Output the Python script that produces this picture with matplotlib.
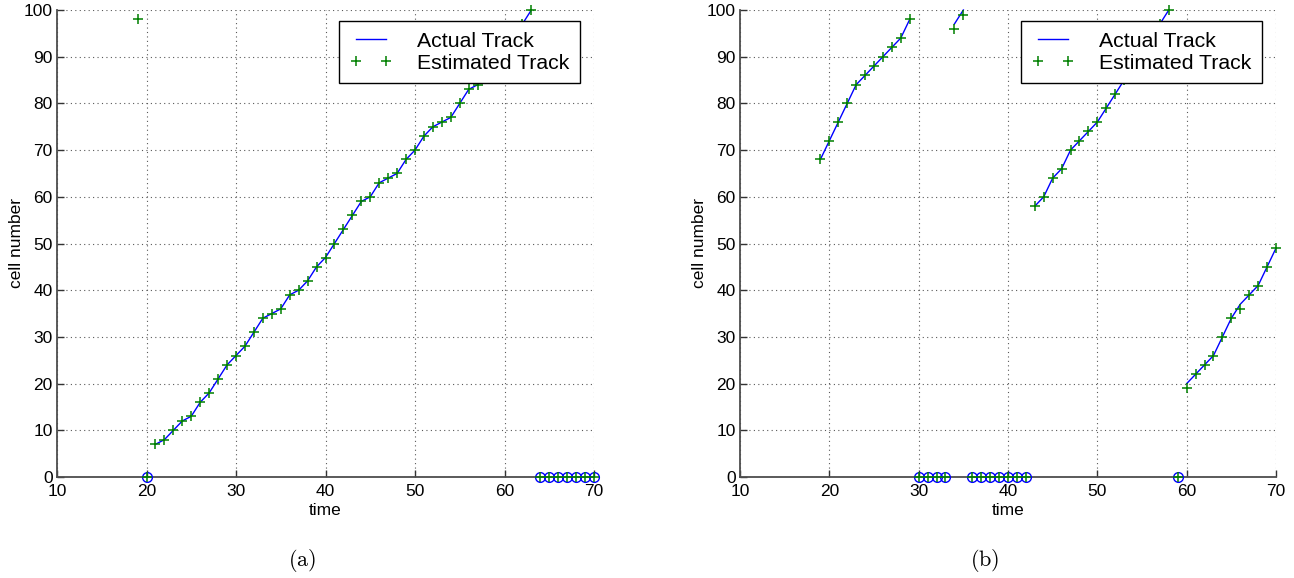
import numpy as np
import matplotlib
matplotlib.use("Agg")
import matplotlib.pyplot as plt

plt.rcParams['font.family'] = ['Liberation Sans', 'DejaVu Sans']
plt.rcParams['mathtext.fontset'] = 'cm'

nan = np.nan
time_a = list(range(19, 71))
actual_a = [nan, 0,
            7, 8, 10, 12, 13, 16, 18, 21, 24, 26,
            28, 31, 34, 35, 36, 39, 40, 42, 45, 47,
            50, 53, 56, 59, 60, 63, 64, 65, 68, 70,
            73, 75, 76, 77, 80, 83, 84, 87, 89, 92,
            94, 97, 100,
            0, 0, 0, 0, 0, 0, 0]
estimated_a = [98, 0,
               7, 8, 10, 12, 13, 16, 18, 21, 24, 26,
               28, 31, 34, 35, 36, 39, 40, 42, 45, 47,
               50, 53, 56, 59, 60, 63, 64, 65, 68, 70,
               73, 75, 76, 77, 80, 83, 84, 87, 89, 92,
               94, 97, 100,
               0, 0, 0, 0, 0, 0, 0]

time_b = list(range(19, 71))
actual_b = [68, 72, 76, 80, 84, 86, 88, 90, 92, 94, 98,
            0, 0, 0, 0,
            97, 100,
            0, 0, 0, 0, 0, 0, 0,
            58, 60, 64, 66, 70, 72, 74, 76, 79, 82, 85, 88, 91, 94, 97, 100,
            0,
            20, 22, 24, 26, 30, 34, 37, 39, 41, 45, 49]
estimated_b = [68, 72, 76, 80, 84, 86, 88, 90, 92, 94, 98,
               0, 0, 0, 0,
               96, 99,
               0, 0, 0, 0, 0, 0, 0,
               58, 60, 64, 66, 70, 72, 74, 76, 79, 82, 85, 88, 91, 94, 97, 100,
               0,
               19, 22, 24, 26, 30, 34, 36, 39, 41, 45, 49]

x_ticks = [10, 20, 30, 40, 50, 60, 70]
y_ticks = [0, 10, 20, 30, 40, 50, 60, 70, 80, 90, 100]
panel_labels = ['(a)', '(b)']

W, H = 1294, 578
fig = plt.figure(figsize=(W / 100, H / 100), dpi=100)

ax_px = [(57, 594), (740, 1276)]
y0_px, y1_px = 477, 10
label_x_px = [302, 985]


def draw(ax, t, act, est):
    t = np.array(t, dtype=float)
    act = np.array(act, dtype=float)
    est = np.array(est, dtype=float)
    line_vals = np.where(act == 0, np.nan, act)
    hl, = ax.plot(t, line_vals, '-', color='#0000ff', lw=1.0, zorder=3,
                  clip_on=False)
    zmask = act == 0
    ax.plot(t[zmask], act[zmask], 'o', mfc='none', mec='#0000ff', ms=7,
            mew=1.0, zorder=4, clip_on=False)
    hp, = ax.plot(t, est, '+', color='#008000', ms=6.5, mew=1.1, zorder=5,
                  clip_on=False)
    ax.set_xlim(10, 70)
    ax.set_ylim(0, 100)
    ax.set_xticks(x_ticks)
    ax.set_yticks(y_ticks)
    ax.grid(True, linestyle=(0, (1, 3.0)), lw=0.8, color='0.35')
    for s in ['top', 'right']:
        ax.spines[s].set_visible(False)
    for s in ['left', 'bottom']:
        ax.spines[s].set_color('0.3')
        ax.spines[s].set_linewidth(1.3)
    ax.tick_params(direction='in', length=5, width=1, color='0.2',
                   labelsize=12.5, pad=3)
    ax.tick_params(axis='x', pad=5)
    ax.set_xlabel('time', fontsize=12.5)
    ax.set_ylabel('cell number', fontsize=12.5)
    ax.xaxis.set_label_coords(0.5, -0.055)
    ax.yaxis.set_label_coords(-33 / 537, 0.5)
    leg = ax.legend([hl, hp], ['Actual Track', 'Estimated Track'],
                    loc='upper right',
                    bbox_to_anchor=(1 - 14 / 537, 1 - 11 / 467),
                    borderaxespad=0, fontsize=15.3, numpoints=2,
                    handlelength=2.0, handletextpad=1.15, borderpad=0.5,
                    labelspacing=0.15, fancybox=False, framealpha=1,
                    edgecolor='black')
    leg.get_frame().set_linewidth(1.0)
    leg.set_zorder(10)


data = [(time_a, actual_a, estimated_a), (time_b, actual_b, estimated_b)]
for i, (x0, x1) in enumerate(ax_px):
    ax = fig.add_axes([x0 / W, (H - y0_px) / H, (x1 - x0) / W,
                       (y0_px - y1_px) / H])
    draw(ax, *data[i])
    fig.text(label_x_px[i] / W, 1 - 560 / H,
             r'$(\mathrm{' + panel_labels[i][1] + r'})$',
             ha='center', va='center', fontsize=16)

fig.savefig('out.png', dpi=100)
